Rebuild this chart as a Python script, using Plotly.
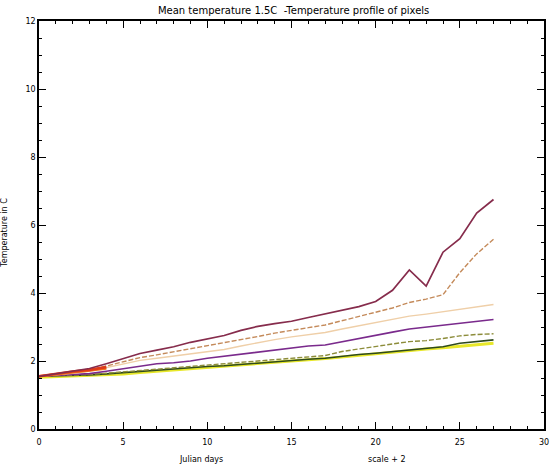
import plotly.graph_objects as go

# Julian day index shared by every pixel profile
days = list(range(28))

# Temperature profiles (deg C) of sampled pixels
pixel_a = [1.55, 1.62, 1.70, 1.78, 1.92, 2.08, 2.22, 2.32, 2.42, 2.55, 2.66, 2.75, 2.90, 3.02,
           3.10, 3.17, 3.28, 3.38, 3.48, 3.60, 3.75, 4.08, 4.68, 4.20, 5.20, 5.60, 6.35, 6.75]
pixel_b = [1.55, 1.60, 1.66, 1.73, 1.85, 1.98, 2.10, 2.18, 2.27, 2.36, 2.44, 2.52, 2.62, 2.72,
           2.82, 2.91, 2.98, 3.06, 3.18, 3.30, 3.42, 3.56, 3.72, 3.82, 3.95, 4.60, 5.15, 5.58]
pixel_c = [1.55, 1.59, 1.64, 1.70, 1.80, 1.92, 2.02, 2.08, 2.14, 2.20, 2.26, 2.34, 2.44, 2.54,
           2.63, 2.71, 2.78, 2.84, 2.94, 3.03, 3.12, 3.22, 3.32, 3.38, 3.45, 3.52, 3.60, 3.66]
pixel_d = [1.55, 1.57, 1.60, 1.63, 1.70, 1.77, 1.85, 1.92, 1.95, 2.00, 2.08, 2.14, 2.20, 2.28,
           2.33, 2.39, 2.44, 2.47, 2.57, 2.66, 2.76, 2.85, 2.94, 3.00, 3.06, 3.12, 3.18, 3.22]
pixel_e = [1.55, 1.56, 1.58, 1.60, 1.64, 1.68, 1.72, 1.76, 1.80, 1.84, 1.88, 1.92, 1.96, 2.01,
           2.05, 2.08, 2.12, 2.16, 2.28, 2.36, 2.43, 2.50, 2.57, 2.60, 2.66, 2.74, 2.78, 2.80]
pixel_f = [1.55, 1.56, 1.57, 1.59, 1.62, 1.66, 1.70, 1.73, 1.77, 1.80, 1.84, 1.86, 1.90, 1.95,
           1.99, 2.03, 2.05, 2.08, 2.14, 2.19, 2.23, 2.28, 2.34, 2.38, 2.42, 2.52, 2.58, 2.62]
pixel_g = [1.52, 1.54, 1.55, 1.57, 1.59, 1.62, 1.66, 1.70, 1.74, 1.77, 1.81, 1.85, 1.89, 1.93,
           1.97, 2.01, 2.04, 2.07, 2.12, 2.17, 2.21, 2.26, 2.31, 2.35, 2.39, 2.44, 2.48, 2.52]

# Short early-season profiles
early_days = [0, 1, 2, 3, 4]
pixel_red = [1.55, 1.63, 1.69, 1.74, 1.82]
pixel_orange = [1.55, 1.60, 1.66, 1.72, 1.78]

series = [
    (days, pixel_g, "#e8e82a", 3.0, "solid"),
    (days, pixel_f, "#2e4a1e", 1.6, "solid"),
    (days, pixel_e, "#8c8c3a", 1.4, "5px,2px"),
    (days, pixel_d, "#7a2a8c", 1.6, "solid"),
    (days, pixel_c, "#efcfa8", 1.4, "solid"),
    (days, pixel_b, "#c48a5a", 1.4, "5px,2px"),
    (early_days, pixel_orange, "#f07a20", 2.6, "solid"),
    (early_days, pixel_red, "#e03a18", 2.6, "solid"),
    (days, pixel_a, "#862c4c", 1.7, "solid"),
]

fig = go.Figure()
for x, y, color, width, dash in series:
    fig.add_trace(go.Scatter(x=x, y=y, mode="lines",
                             line=dict(color=color, width=width, dash=dash),
                             showlegend=False, hoverinfo="skip"))

axis_common = dict(
    showline=True, linecolor="black", linewidth=1.5, mirror="allticks",
    ticks="inside", ticklen=7, tickwidth=1.2, tickcolor="black",
    showgrid=False, zeroline=False,
    tickfont=dict(family="DejaVu Sans", size=8, color="black"),
)

fig.update_xaxes(range=[0, 30], dtick=5, tick0=0, ticklabelstandoff=5,
                 minor=dict(ticks="inside", dtick=1, ticklen=3, tickcolor="black"),
                 **axis_common)
fig.update_yaxes(range=[0, 12], dtick=2, tick0=0,
                 minor=dict(ticks="inside", dtick=0.5, ticklen=3, tickcolor="black"),
                 **axis_common)

fig.update_layout(
    width=554, height=464,
    margin=dict(l=39, r=5, t=21, b=35),
    paper_bgcolor="white", plot_bgcolor="white",
    title=dict(text="Mean temperature 1.5C  -Temperature profile of pixels",
               x=0.53, xanchor="center", y=0.985, yanchor="top",
               font=dict(family="DejaVu Sans", size=10, color="black")),
    annotations=[
        dict(text="Julian days", xref="paper", yref="paper", x=0.32, y=-0.06,
             xanchor="center", yanchor="top", showarrow=False,
             font=dict(family="DejaVu Sans", size=8, color="black")),
        dict(text="scale + 2", xref="paper", yref="paper", x=0.69, y=-0.06,
             xanchor="center", yanchor="top", showarrow=False,
             font=dict(family="DejaVu Sans", size=8, color="black")),
        dict(text="Temperature in C", xref="paper", yref="paper", x=-0.068, y=0.48,
             xanchor="center", yanchor="middle", showarrow=False, textangle=-90,
             font=dict(family="DejaVu Sans", size=8, color="black")),
    ],
)

fig.write_html("out.html")
